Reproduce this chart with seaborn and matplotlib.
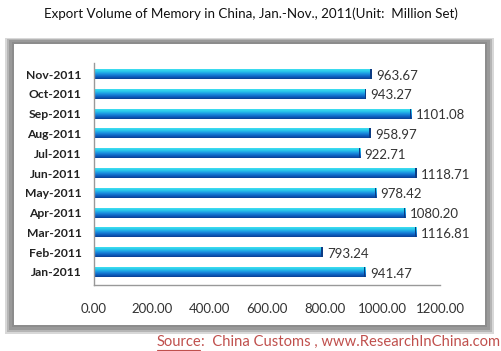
import matplotlib
matplotlib.use('Agg')
import numpy as np
import pandas as pd
import matplotlib.pyplot as plt
import matplotlib.patches as mpatches
import seaborn as sns

# datos
meses = ['Nov-2011', 'Oct-2011', 'Sep-2011', 'Aug-2011', 'Jul-2011', 'Jun-2011',
         'May-2011', 'Apr-2011', 'Mar-2011', 'Feb-2011', 'Jan-2011']
volumen = [963.67, 943.27, 1101.08, 958.97, 922.71, 1118.71,
           978.42, 1080.20, 1116.81, 793.24, 941.47]
ticks_x = [0, 200, 400, 600, 800, 1000, 1200]

df = pd.DataFrame({'mes': meses, 'volumen': volumen})

sns.set_theme(style="white")
plt.rcParams['font.family'] = ['Lato', 'DejaVu Sans']

W, H = 501, 351
fig = plt.figure(figsize=(W / 100, H / 100), dpi=100)

def caja(x0, y0, x1, y1, color, z):
    # rectangulo en pixeles (origen arriba-izquierda)
    r = mpatches.Rectangle((x0 / W, 1 - y1 / H), (x1 - x0) / W, (y1 - y0) / H,
                           transform=fig.transFigure, facecolor=color,
                           edgecolor='none', zorder=z)
    fig.add_artist(r)

# marco gris con sombra
caja(5, 38, 494, 334, '#d8d8d8', 0)
caja(7, 39, 492, 332, '#b5b5b5', 0.1)
caja(9, 40, 490, 330, '#999999', 0.2)
caja(12, 42, 487, 327, '#8c8c8c', 0.3)
caja(14, 44, 485, 325, 'white', 0.4)

ax = fig.add_axes([94 / W, 1 - 285 / H, (440 - 94) / W, (285 - 63) / H])
ax.set_zorder(1)
ax.patch.set_alpha(0)

sns.barplot(data=df, x='volumen', y='mes', order=meses, orient='h',
            color='#1a7fd0', width=0.5, ax=ax)

ax.set_xlim(0, 1200)
ax.set_ylim(10.66, -0.56)

# degradado de azul oscuro a cian en cada barra
grad = np.linspace(0, 1, 64).reshape(-1, 1)
cmap = matplotlib.colors.LinearSegmentedColormap.from_list(
    'azul', ['#0a3f95', '#0d62c2', '#1a8ee0', '#27c3ea', '#3fe0f0'])
for bar in ax.patches:
    x, y = bar.get_x(), bar.get_y()
    w, h = bar.get_width(), bar.get_height()
    im = ax.imshow(grad, cmap=cmap, aspect='auto', extent=(x, x + w, y + h, y),
                   origin='lower', zorder=2)
    im.set_clip_path(bar)
    bar.set_facecolor('none')
    # tapa oscura al final
    ax.add_patch(mpatches.Rectangle((x + w - 5, y), 5, h, facecolor='#0b3c84',
                                    edgecolor='none', zorder=3))

for i, v in enumerate(volumen):
    ax.text(v + 16, i + 0.08, f"{v:.2f}", va='center', ha='left',
            fontsize=9.5, color='#333333')

ax.set_xticks(ticks_x)
ax.set_xticklabels([f"{t:.2f}" for t in ticks_x], fontsize=9.5, color='#333333')
ax.set_yticks(range(len(meses)))
ax.set_yticklabels(meses, fontsize=8.7, fontweight='bold', color='#222222')
ax.set_yticks(np.arange(-0.5, len(meses), 1), minor=True)
ax.tick_params(axis='y', which='major', length=0, pad=9)
ax.tick_params(axis='y', which='minor', length=4, color='#999999', direction='out')
ax.tick_params(axis='x', length=4, color='#999999', direction='out', pad=9)
ax.set_xlabel('')
ax.set_ylabel('')
for lado in ['top', 'right']:
    ax.spines[lado].set_visible(False)
for lado in ['left', 'bottom']:
    ax.spines[lado].set_color('#999999')
    ax.spines[lado].set_linewidth(1)

fig.text(0.5, 1 - 14 / H,
         "Export Volume of Memory in China, Jan.-Nov., 2011(Unit:  Million Set)",
         ha='center', va='center', fontsize=9.6, color='#111111')

fig.text(157 / W, 1 - 342 / H, "Source", ha='left', va='center',
         fontsize=10.6, color='#c0504d')
fig.text(201 / W, 1 - 342 / H, ":  China Customs , www.ResearchInChina.com",
         ha='left', va='center', fontsize=10.6, color='#c0504d')
fig.add_artist(matplotlib.lines.Line2D([157 / W, 200 / W], [1 - 349.5 / H, 1 - 349.5 / H],
                                       transform=fig.transFigure, color='#c0504d', lw=0.8))

fig.savefig('out.png', dpi=100)
